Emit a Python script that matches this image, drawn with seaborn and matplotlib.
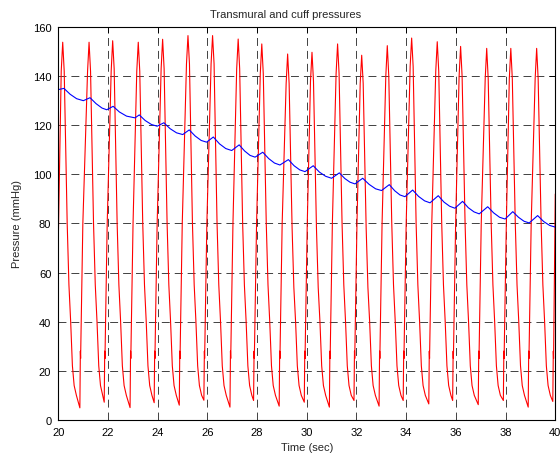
import matplotlib
matplotlib.use('Agg')
import matplotlib.pyplot as plt
import seaborn as sns

# transmural pressure (red), one row per heart beat
red_t = [20.00, 20.12, 20.18, 20.24, 20.36, 20.43, 20.50, 20.57, 20.64, 20.73, 20.87,
         20.89, 20.90, 20.99, 21.18, 21.24, 21.30, 21.42, 21.49, 21.56, 21.63, 21.70, 21.79, 21.85,
         21.87, 21.88, 21.97, 22.13, 22.19, 22.25, 22.37, 22.44, 22.51, 22.58, 22.65, 22.74, 22.89,
         22.91, 22.92, 23.01, 23.16, 23.22, 23.28, 23.40, 23.47, 23.54, 23.61, 23.68, 23.77, 23.86,
         23.88, 23.89, 23.98, 24.14, 24.20, 24.26, 24.38, 24.45, 24.52, 24.59, 24.66, 24.75, 24.87,
         24.89, 24.90, 24.99, 25.16, 25.22, 25.28, 25.40, 25.47, 25.54, 25.61, 25.68, 25.77, 25.86,
         25.88, 25.89, 25.98, 26.15, 26.21, 26.27, 26.39, 26.46, 26.53, 26.60, 26.67, 26.76, 26.91,
         26.93, 26.94, 27.03, 27.18, 27.24, 27.30, 27.42, 27.49, 27.56, 27.63, 27.70, 27.79, 27.86,
         27.88, 27.89, 27.98, 28.13, 28.19, 28.25, 28.37, 28.44, 28.51, 28.58, 28.65, 28.74, 28.89,
         28.91, 28.92, 29.01, 29.17, 29.23, 29.29, 29.41, 29.48, 29.55, 29.62, 29.69, 29.78, 29.90,
         29.92, 29.93, 30.02, 30.15, 30.21, 30.27, 30.39, 30.46, 30.53, 30.60, 30.67, 30.76, 30.91,
         30.93, 30.94, 31.03, 31.18, 31.24, 31.30, 31.42, 31.49, 31.56, 31.63, 31.70, 31.79, 31.90,
         31.92, 31.93, 32.02, 32.15, 32.21, 32.27, 32.39, 32.46, 32.53, 32.60, 32.67, 32.76, 32.91,
         32.93, 32.94, 33.03, 33.18, 33.24, 33.30, 33.42, 33.49, 33.56, 33.63, 33.70, 33.79, 33.88,
         33.90, 33.91, 34.00, 34.16, 34.22, 34.28, 34.40, 34.47, 34.54, 34.61, 34.68, 34.77, 34.91,
         34.93, 34.94, 35.03, 35.19, 35.25, 35.31, 35.43, 35.50, 35.57, 35.64, 35.71, 35.80, 35.87,
         35.89, 35.90, 35.99, 36.13, 36.19, 36.25, 36.37, 36.44, 36.51, 36.58, 36.65, 36.74, 36.90,
         36.92, 36.93, 37.02, 37.18, 37.24, 37.30, 37.42, 37.49, 37.56, 37.63, 37.70, 37.79, 37.91,
         37.93, 37.94, 38.03, 38.15, 38.21, 38.27, 38.39, 38.46, 38.53, 38.60, 38.67, 38.76, 38.91,
         38.93, 38.94, 39.03, 39.19, 39.25, 39.31, 39.43, 39.50, 39.57, 39.64, 39.71, 39.80, 39.90,
         39.92, 39.93, 40.00]
red_p = [72, 142, 153.8, 142, 80, 55, 40, 22, 14, 10, 4.9,
         28, 25, 80, 142, 153.8, 142, 80, 55, 40, 22, 14, 10, 7.2,
         28, 25, 80, 142, 154.4, 143, 80, 55, 40, 22, 14, 10, 5.0,
         28, 25, 80, 142, 153.8, 142, 80, 55, 40, 22, 14, 10, 7.0,
         28, 25, 80, 143, 155.0, 143, 80, 55, 40, 22, 14, 10, 6.0,
         28, 25, 80, 145, 156.5, 145, 80, 55, 40, 22, 14, 10, 8.0,
         28, 25, 80, 145, 156.5, 145, 80, 55, 40, 22, 14, 10, 5.2,
         28, 25, 80, 143, 155.1, 143, 80, 55, 40, 22, 14, 10, 7.9,
         28, 25, 80, 141, 153.1, 141, 80, 55, 40, 22, 14, 10, 5.6,
         28, 25, 80, 137, 149.0, 137, 78, 54, 40, 22, 14, 10, 7.2,
         28, 25, 80, 138, 149.7, 138, 78, 54, 40, 22, 14, 10, 5.2,
         28, 25, 80, 141, 153.1, 141, 80, 55, 40, 22, 14, 10, 7.9,
         28, 25, 80, 137, 148.5, 137, 78, 54, 40, 22, 14, 10, 5.6,
         28, 25, 80, 140, 152.4, 140, 80, 55, 40, 22, 14, 10, 7.9,
         28, 25, 80, 144, 155.5, 144, 80, 55, 40, 22, 14, 10, 6.5,
         28, 25, 80, 142, 154.0, 142, 80, 55, 40, 22, 14, 10, 7.9,
         28, 25, 80, 140, 152.1, 140, 80, 55, 40, 22, 14, 10, 6.2,
         28, 25, 80, 139, 151.3, 139, 80, 55, 40, 22, 14, 10, 7.9,
         28, 25, 80, 139, 151.3, 139, 80, 55, 40, 22, 14, 10, 5.2,
         28, 25, 80, 139, 151.3, 139, 80, 55, 40, 22, 14, 10, 7.5,
         28, 25, 92]

# cuff pressure (blue)
blue_t = [20.00, 20.23, 20.48, 20.74, 21.01,
          21.28, 21.52, 21.76, 21.95,
          22.21, 22.46, 22.75, 23.09,
          23.26, 23.50, 23.75, 23.98,
          24.25, 24.50, 24.76, 25.01,
          25.27, 25.51, 25.75, 25.97,
          26.24, 26.49, 26.74, 26.98,
          27.28, 27.50, 27.72, 27.92,
          28.23, 28.47, 28.70, 28.92,
          29.26, 29.49, 29.72, 29.93,
          30.26, 30.51, 30.76, 31.00,
          31.31, 31.53, 31.74, 31.94,
          32.25, 32.51, 32.77, 33.01,
          33.32, 33.54, 33.75, 33.95,
          34.26, 34.50, 34.74, 34.96,
          35.29, 35.52, 35.75, 35.96,
          36.27, 36.50, 36.73, 36.94,
          37.28, 37.52, 37.76, 37.98,
          38.29, 38.52, 38.74, 38.95,
          39.29, 39.53, 39.77, 40.00]
blue_p = [134.5, 135.0, 132.6, 130.8, 130.0,
          131.2, 128.8, 127.0, 126.3,
          127.7, 125.4, 123.7, 123.0,
          124.2, 121.9, 120.3, 119.6,
          121.0, 118.6, 116.9, 116.2,
          118.1, 115.6, 113.8, 113.1,
          115.2, 112.4, 110.5, 109.7,
          112.0, 109.5, 107.7, 107.0,
          109.0, 106.4, 104.6, 103.8,
          106.0, 103.5, 101.8, 101.1,
          103.5, 100.9, 99.2, 98.4,
          100.6, 98.3, 96.8, 96.1,
          98.4, 95.9, 94.1, 93.4,
          95.8, 93.3, 91.6, 90.9,
          93.6, 91.0, 89.2, 88.4,
          91.3, 88.7, 87.0, 86.2,
          89.0, 86.4, 84.7, 83.9,
          86.8, 84.3, 82.5, 81.8,
          84.8, 82.5, 80.9, 80.2,
          83.2, 80.8, 79.2, 78.5]

xticks = list(range(20, 41, 2))
yticks = list(range(0, 161, 20))

sns.set_style('white')
plt.rcParams['font.family'] = ['Liberation Sans', 'DejaVu Sans']
plt.rcParams['font.size'] = 8

fig = plt.figure(figsize=(5.6, 4.56), dpi=100)
ax = fig.add_axes([0.104, 0.077, 0.8876, 0.8616])

sns.lineplot(x=red_t, y=red_p, ax=ax, color='#ff0000', linewidth=0.8,
             estimator=None, sort=False)
sns.lineplot(x=blue_t, y=blue_p, ax=ax, color='#0000ff', linewidth=0.8,
             estimator=None, sort=False)

ax.set_xlim(20, 40)
ax.set_ylim(0, 160)
ax.set_xticks(xticks)
ax.set_yticks(yticks)
ax.grid(True, color='#222222', linestyle=(0, (9.5, 6)), linewidth=0.6)
ax.set_axisbelow(True)
ax.tick_params(direction='in', length=4, width=0.7, top=True, right=True,
               labelsize=8, pad=5, colors='black')
for s in ax.spines.values():
    s.set_color('black')
    s.set_linewidth(0.8)

ax.set_title('Transmural and cuff pressures', fontsize=8, x=0.457, pad=7)
ax.set_xlabel('Time (sec)', fontsize=8, labelpad=4)
ax.set_ylabel('Pressure (mmHg)', fontsize=8, labelpad=8)

fig.savefig('out.png', dpi=100)
